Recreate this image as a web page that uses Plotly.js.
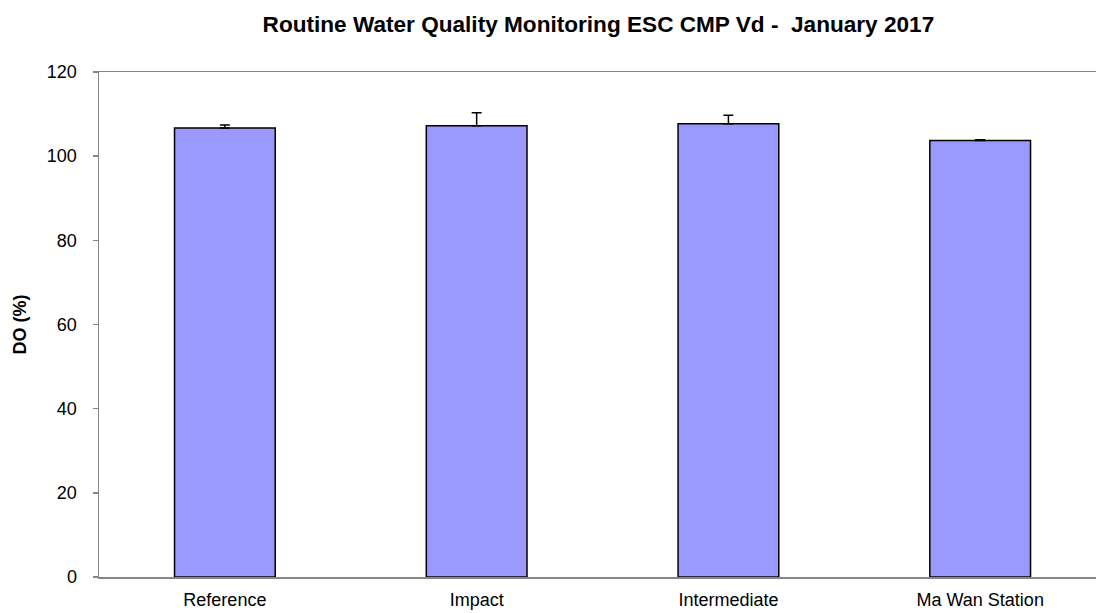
<!DOCTYPE html>
<html>
<head>
<meta charset="utf-8">
<script src="https://cdn.plot.ly/plotly-3.0.1.min.js"></script>
<style>html,body{margin:0;padding:0;background:#fff;}#chart{width:1096px;height:613px;}</style>
</head>
<body>
<div id="chart"></div>
<script>
const categories = ["Reference", "Impact", "Intermediate", "Ma Wan Station"];
const doValues = [106.7, 107.2, 107.7, 103.7];
const doErrors = [0.7, 3.1, 2.0, 0.2];
const yTicks = [0, 20, 40, 60, 80, 100, 120];

const trace = {
  type: "bar",
  x: categories,
  y: doValues,
  marker: {color: "#9999FF", line: {color: "#000000", width: 1.5}},
  error_y: {type: "data", symmetric: false, array: doErrors, arrayminus: doErrors.map(() => 0), color: "#000000", thickness: 1.5, width: 5},
  hoverinfo: "none"
};

const layout = {
  width: 1096, height: 613,
  margin: {l: 99, r: 0, t: 72, b: 36},
  paper_bgcolor: "#ffffff", plot_bgcolor: "#ffffff",
  font: {family: "Liberation Sans, Arial, sans-serif", color: "#000000", size: 18},
  title: {text: "<b>Routine Water Quality Monitoring ESC CMP Vd -  January 2017</b>", x: 0.546, xanchor: "center", y: 0.96, yanchor: "middle", font: {size: 22.6, family: "Liberation Sans, Arial, sans-serif", color: "#000"}},
  bargap: 0.6,
  showlegend: false,
  xaxis: {
    type: "category", range: [-0.5, 3.46], showline: true, linecolor: "#868686", linewidth: 1.5, mirror: true,
    ticks: "", showgrid: false, zeroline: false, tickfont: {size: 18}, ticklabelstandoff: 6
  },
  yaxis: {
    range: [0, 120], tickvals: yTicks, ticktext: yTicks.map(String), showline: true, linecolor: "#868686", linewidth: 1.5,
    ticks: "outside", ticklen: 5, tickcolor: "#868686", tickwidth: 1.5, showgrid: false, zeroline: false,
    tickfont: {size: 18}, ticklabelstandoff: 12,
    title: {text: "<b>DO (%)</b>", font: {size: 18}, standoff: 15}
  }
};

Plotly.newPlot("chart", [trace], layout, {staticPlot: true, displayModeBar: false});
</script>
</body>
</html>
